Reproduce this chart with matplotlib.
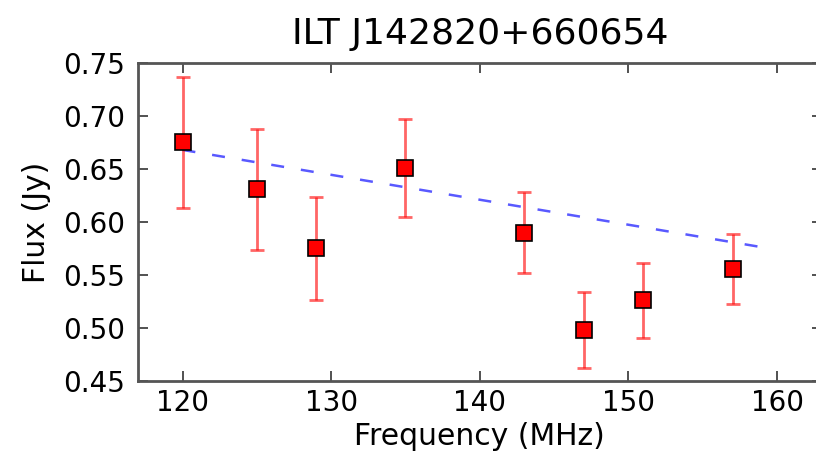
import matplotlib
matplotlib.use("Agg")
import matplotlib.pyplot as plt

# measured flux densities
freq = [120, 125, 129, 135, 143, 147, 151, 157]
flux = [0.675, 0.631, 0.575, 0.651, 0.590, 0.498, 0.526, 0.556]
flux_err = [0.062, 0.057, 0.049, 0.046, 0.038, 0.036, 0.035, 0.033]

# fitted spectrum
fit_freq = [120, 140, 159.5]
fit_flux = [0.668, 0.621, 0.575]

fig = plt.figure(figsize=(8.16, 4.55), dpi=100)
ax = fig.add_axes([0.169, 0.1626, 0.838, 0.699])

ax.plot(fit_freq, fit_flux, color="blue", linestyle="--", dashes=(5.2, 6.8),
        linewidth=1.8, alpha=0.65, zorder=2)
ax.errorbar(freq, flux, yerr=flux_err, fmt="none", ecolor="red", alpha=0.6,
            elinewidth=2, capsize=5, capthick=2, zorder=3)
ax.plot(freq, flux, "s", color="red", markeredgecolor="black",
        markeredgewidth=1.2, markersize=12, linestyle="none", zorder=4)

ax.set_xlim(117, 163)
ax.set_ylim(0.45, 0.75)
ax.set_xticks([120, 130, 140, 150, 160])
ax.set_yticks([0.45, 0.50, 0.55, 0.60, 0.65, 0.70, 0.75])
ax.set_yticklabels(["0.45", "0.50", "0.55", "0.60", "0.65", "0.70", "0.75"])
ax.tick_params(direction="in", length=7, width=1.2, top=True, right=True,
               labelsize=20, color="#333333")
ax.tick_params(axis="x", pad=6)
ax.tick_params(axis="y", pad=9)
for s in ax.spines.values():
    s.set_linewidth(2)
    s.set_color("#555555")

ax.set_xlabel("Frequency (MHz)", fontsize=21.5, labelpad=3)
ax.set_ylabel("Flux (Jy)", fontsize=21.5, labelpad=9)
ax.set_title("ILT J142820+660654", fontsize=26, pad=14)

fig.savefig("out.png", dpi=100)
